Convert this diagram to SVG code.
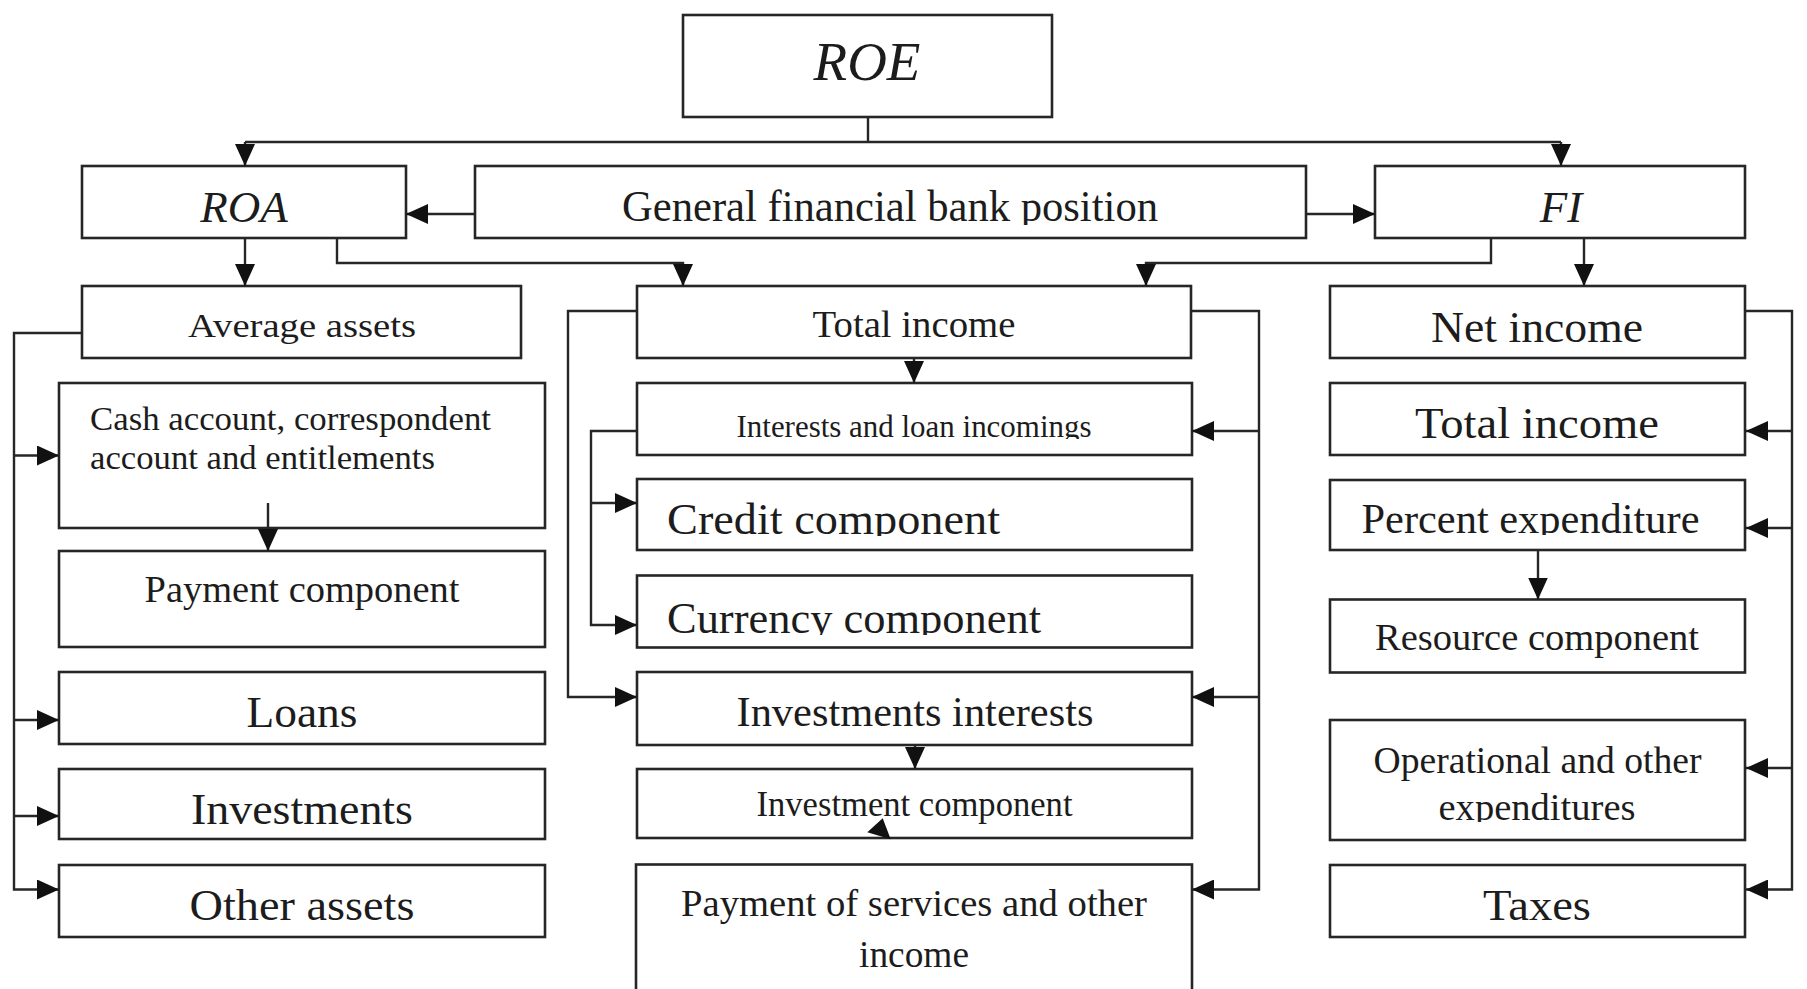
<svg xmlns="http://www.w3.org/2000/svg" width="1807" height="989" viewBox="0 0 1807 989">
<style>
.box{fill:#fff;stroke:#262626;stroke-width:2.6}
.ln{fill:none;stroke:#262626;stroke-width:2.4}
.ar{fill:none;stroke:#262626;stroke-width:2.4;marker-end:url(#ah)}
text{font-family:"Liberation Serif","Times New Roman",serif;fill:#1c1c1c}
.c{text-anchor:middle}
.i{font-style:italic}
</style>
<defs>
<marker id="ah" markerUnits="userSpaceOnUse" markerWidth="22" markerHeight="20" refX="22" refY="10" orient="auto" viewBox="0 0 22 20">
<path d="M0,0 L22,10 L0,20 z" fill="#111"/>
</marker>
<clipPath id="cpG" clipPathUnits="userSpaceOnUse"><rect x="470" y="160" width="840" height="65"/></clipPath>
<clipPath id="cpInt" clipPathUnits="userSpaceOnUse"><rect x="630" y="380" width="570" height="59"/></clipPath>
<clipPath id="cpCr" clipPathUnits="userSpaceOnUse"><rect x="630" y="480" width="570" height="56"/></clipPath>
<clipPath id="cpCu" clipPathUnits="userSpaceOnUse"><rect x="630" y="577" width="570" height="58"/></clipPath>
<clipPath id="cpPe" clipPathUnits="userSpaceOnUse"><rect x="1325" y="481" width="425" height="54"/></clipPath>
<clipPath id="cpEx" clipPathUnits="userSpaceOnUse"><rect x="1325" y="780" width="425" height="42"/></clipPath>
</defs>
<rect width="1807" height="989" fill="#fff"/>

<g id="roe"><rect class="box" x="683" y="15" width="369" height="102"/><text class="c i" x="867" y="80" font-size="55">ROE</text></g>
<g id="roa"><rect class="box" x="82" y="166" width="324" height="72"/><text class="c i" x="244" y="222" font-size="45">ROA</text></g>
<g id="gfbp"><rect class="box" x="475" y="166" width="831" height="72"/><text class="c" x="890" y="221" font-size="44" textLength="536" lengthAdjust="spacingAndGlyphs" clip-path="url(#cpG)">General financial bank position</text></g>
<g id="fi"><rect class="box" x="1375" y="166" width="370" height="72"/><text class="c i" x="1561" y="222" font-size="45">FI</text></g>

<g id="average-assets"><rect class="box" x="82" y="286" width="439" height="72"/><text class="c" x="302" y="337" font-size="34" textLength="228" lengthAdjust="spacingAndGlyphs">Average assets</text></g>
<g id="total-income-mid"><rect class="box" x="637" y="286" width="554" height="72"/><text class="c" x="914" y="337" font-size="38" textLength="203" lengthAdjust="spacingAndGlyphs">Total income</text></g>
<g id="net-income"><rect class="box" x="1330" y="286" width="415" height="72"/><text class="c" x="1537" y="342" font-size="44" textLength="212" lengthAdjust="spacingAndGlyphs">Net income</text></g>

<g id="cash"><rect class="box" x="59" y="383" width="486" height="145"/><text x="90" y="430" font-size="34" textLength="401" lengthAdjust="spacingAndGlyphs">Cash account, correspondent</text><text x="90" y="469" font-size="34" textLength="345" lengthAdjust="spacingAndGlyphs">account and entitlements</text></g>
<g id="payment-component"><rect class="box" x="59" y="551" width="486" height="96"/><text class="c" x="302" y="602" font-size="37" textLength="315" lengthAdjust="spacingAndGlyphs">Payment component</text></g>
<g id="loans"><rect class="box" x="59" y="672" width="486" height="72"/><text class="c" x="302" y="727" font-size="44" textLength="111" lengthAdjust="spacingAndGlyphs">Loans</text></g>
<g id="investments"><rect class="box" x="59" y="769" width="486" height="70"/><text class="c" x="302" y="824" font-size="44" textLength="222" lengthAdjust="spacingAndGlyphs">Investments</text></g>
<g id="other-assets"><rect class="box" x="59" y="865" width="486" height="72"/><text class="c" x="302" y="920" font-size="44" textLength="225" lengthAdjust="spacingAndGlyphs">Other assets</text></g>

<g id="interests"><rect class="box" x="637" y="383" width="555" height="72"/><text class="c" x="914" y="437" font-size="32" textLength="355" lengthAdjust="spacingAndGlyphs" clip-path="url(#cpInt)">Interests and loan incomings</text></g>
<g id="credit"><rect class="box" x="637" y="479" width="555" height="71"/><text x="667" y="533.5" font-size="45" textLength="333" lengthAdjust="spacingAndGlyphs" clip-path="url(#cpCr)">Credit component</text></g>
<g id="currency"><rect class="box" x="637" y="575.5" width="555" height="72"/><text x="667" y="633" font-size="45" textLength="374" lengthAdjust="spacingAndGlyphs" clip-path="url(#cpCu)">Currency component</text></g>
<g id="investments-interests"><rect class="box" x="637" y="672" width="555" height="73"/><text class="c" x="915" y="726" font-size="43" textLength="357" lengthAdjust="spacingAndGlyphs">Investments interests</text></g>
<g id="investment-component"><rect class="box" x="637" y="769" width="555" height="69"/><text class="c" x="914.5" y="816" font-size="36" textLength="316" lengthAdjust="spacingAndGlyphs">Investment component</text><polygon points="882.7,818.3 867.3,832.3 890.7,839.3" fill="#111"/></g>
<g id="payment-services"><rect class="box" x="636" y="864.5" width="556" height="130"/><text class="c" x="914" y="916" font-size="37" textLength="466" lengthAdjust="spacingAndGlyphs">Payment of services and other</text><text class="c" x="914" y="967" font-size="37" textLength="110" lengthAdjust="spacingAndGlyphs">income</text></g>

<g id="total-income-right"><rect class="box" x="1330" y="383" width="415" height="72"/><text class="c" x="1537" y="438" font-size="44" textLength="244" lengthAdjust="spacingAndGlyphs">Total income</text></g>
<g id="percent-expenditure"><rect class="box" x="1330" y="480" width="415" height="70"/><text class="c" x="1530.5" y="533.3" font-size="42" textLength="338" lengthAdjust="spacingAndGlyphs" clip-path="url(#cpPe)">Percent expenditure</text></g>
<g id="resource-component"><rect class="box" x="1330" y="599.5" width="415" height="73"/><text class="c" x="1537" y="649.6" font-size="38" textLength="324" lengthAdjust="spacingAndGlyphs">Resource component</text></g>
<g id="operational"><rect class="box" x="1330" y="720" width="415" height="120"/><text class="c" x="1537.5" y="773" font-size="37" textLength="328" lengthAdjust="spacingAndGlyphs">Operational and other</text><text class="c" x="1537" y="820" font-size="37" textLength="197" lengthAdjust="spacingAndGlyphs" clip-path="url(#cpEx)">expenditures</text></g>
<g id="taxes"><rect class="box" x="1330" y="865" width="415" height="72"/><text class="c" x="1537" y="920" font-size="44" textLength="108" lengthAdjust="spacingAndGlyphs">Taxes</text></g>

<g id="connectors">
<path class="ln" d="M868,117 V142 M245,142 H1561"/>
<path class="ar" d="M245,142 V166"/>
<path class="ar" d="M1561,142 V166"/>
<path class="ar" d="M475,214 H406"/>
<path class="ar" d="M1306,214 H1375"/>
<path class="ar" d="M245,238 V286"/>
<path class="ar" d="M337,238 V263 H683 V286"/>
<path class="ar" d="M1491,238 V263 H1146 V286"/>
<path class="ar" d="M1584,238 V286"/>
<path class="ar" d="M82,333 H14 V889.5 H59"/>
<path class="ar" d="M14,455.5 H59"/>
<path class="ar" d="M14,720 H59"/>
<path class="ar" d="M14,816 H59"/>
<path class="ar" d="M268,503 V551"/>
<path class="ar" d="M914,358 V383"/>
<path class="ar" d="M637,311 H568 V697 H637"/>
<path class="ar" d="M637,431 H591 V625 H637"/>
<path class="ar" d="M591,503 H637"/>
<path class="ar" d="M1191,311 H1259 V889.5 H1192"/>
<path class="ar" d="M1259,431 H1192"/>
<path class="ar" d="M1259,697 H1192"/>
<path class="ar" d="M915,745 V769"/>
<path class="ar" d="M1746,311 H1792 V889.5 H1746"/>
<path class="ar" d="M1792,431 H1746"/>
<path class="ar" d="M1792,528 H1746"/>
<path class="ar" d="M1792,768 H1746"/>
<path class="ar" d="M1538,550 V599.5"/>
</g>
</svg>
